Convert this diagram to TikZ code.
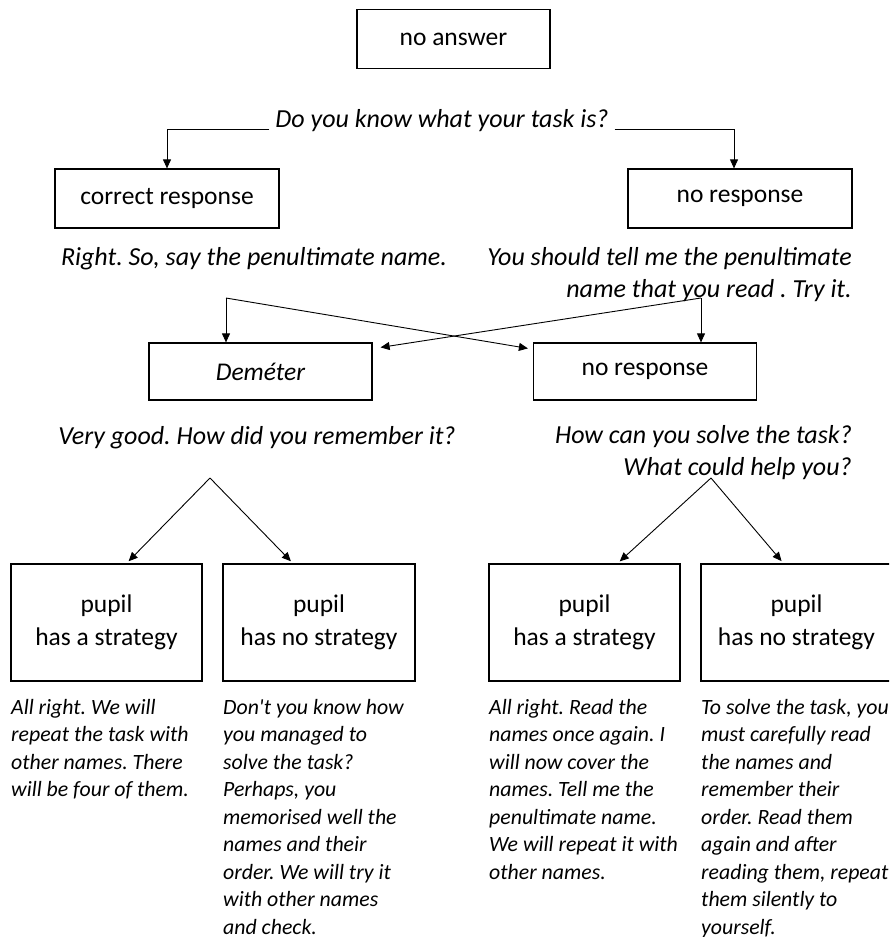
\documentclass[tikz,border=0pt]{standalone}
\usepackage{fontspec}
\setmainfont{Carlito}
\usetikzlibrary{arrows.meta}
\frenchspacing

\tikzset{
  box/.style={draw, line width=1.2pt, inner sep=0pt, align=center,
    font=\fontsize{25.5}{33}\selectfont},
  say/.style={inner sep=0pt, font=\fontsize{26}{32}\selectfont\itshape},
  note/.style={inner sep=0pt, anchor=north west, align=left,
    font=\fontsize{21.8}{27.5}\selectfont\itshape},
  arr/.style={-{Triangle[length=9pt,width=8pt]}, line width=0.9pt},
  ln/.style={line width=0.9pt}
}

\begin{document}
\begin{tikzpicture}[x=1pt,y=-1pt]
\useasboundingbox (0,0) rectangle (889,937);
\clip (0,0) rectangle (889,937);

% first level
\node[box, minimum width=193, minimum height=59] (start) at (453.5,39) {no answer};
\node[say, anchor=base] (ask) at (442,127) {Do you know what your task is?};
\node[box, minimum width=224, minimum height=59] (right) at (167,198.5) {correct response};
\node[box, minimum width=224, minimum height=59] (none) at (740,198.5) {no response};
\draw[arr] ([xshift=-6,yshift=-2]ask.base west) -| (right.north);
\draw[arr] ([xshift=6,yshift=-2]ask.base east) -| ([xshift=-6]none.north);

% second level
\node[say] (say) at (254,259) {Right. So, say the penultimate name.};
\node[say, anchor=east, align=right] (tell) at (852,275)
  {You should tell me the penultimate\\name that you read . Try it.};
\node[box, minimum width=223, minimum height=57] (name) at (260.5,371.5) {\itshape Deméter};
\node[box, minimum width=223, minimum height=57] (none2) at (645,371.5) {no response};
\coordinate (fork L) at (226,298);
\coordinate (fork R) at (701,298);
\draw[arr] (fork L) -- (fork L |- name.north);
\draw[arr] (fork L) -- ([xshift=-5,yshift=-6]none2.north west);
\draw[arr] (fork R) -- (fork R |- none2.north);
\draw[arr] (fork R) -- ([xshift=8,yshift=-5]name.north east);

% third level
\node[say] (how) at (257,438) {Very good. How did you remember it?};
\node[say, anchor=east, align=right] (help) at (852,453)
  {How can you solve the task?\\What could help you?};
\coordinate (top L) at (210,478);
\coordinate (top R) at (711,478);

% strategies
\node[box, minimum width=191, minimum height=117] (s1) at (106.5,622.5) {pupil\\has a strategy};
\node[box, minimum width=192, minimum height=117] (s2) at (319,622.5) {pupil\\has no strategy};
\node[box, minimum width=191, minimum height=117] (s3) at (584.5,622.5) {pupil\\has a strategy};
\node[box, minimum width=191, minimum height=117] (s4) at (796.5,622.5) {pupil\\has no strategy};
\draw[arr, shorten >=3pt] (top L) -- ([xshift=20]s1.north);
\draw[arr, shorten >=3pt] (top L) -- ([xshift=-26]s2.north);
\draw[arr, shorten >=3pt] (top R) -- ([xshift=33]s3.north);
\draw[arr, shorten >=3pt] (top R) -- ([xshift=-13]s4.north);

% answers
\node[note] (a1) at (11,699) {All right. We will\\repeat the task with\\other names. There\\will be four of them.};
\node[note] (a2) at (223,699) {Don\textquotesingle t you know how\\you managed to\\solve the task?\\Perhaps, you\\memorised well the\\names and their\\order. We will try it\\with other names\\and check.};
\node[note] (a3) at (489,699) {All right. Read the\\names once again. I\\will now cover the\\names. Tell me the\\penultimate name.\\We will repeat it with\\other names.};
\node[note] (a4) at (701,699) {To solve the task, you\\must carefully read\\the names and\\remember their\\order. Read them\\again and after\\reading them, repeat\\them silently to\\yourself.};
\end{tikzpicture}
\end{document}
